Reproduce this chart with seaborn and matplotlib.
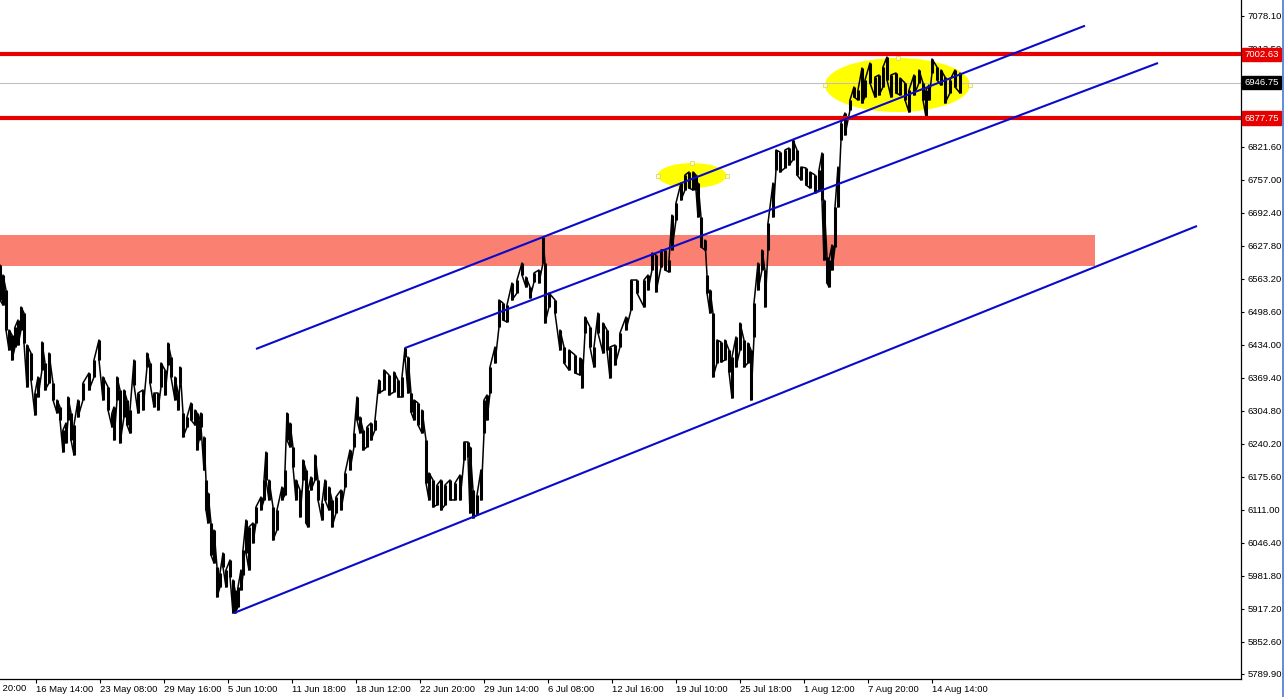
import matplotlib
matplotlib.use("Agg")
import matplotlib.pyplot as plt
import matplotlib.transforms as mtransforms
from matplotlib.patches import Rectangle, Ellipse
from matplotlib.lines import Line2D
import numpy as np
import pandas as pd
import seaborn as sns

sns.set_theme(style="white")
plt.rcParams["font.family"] = ["Liberation Sans", "DejaVu Sans"]

# ---- price history: bar position, bar high, bar low ----
bar_x = [0, 3, 6, 9, 12, 15, 18, 21, 24, 27, 31, 35, 38, 42, 45, 49, 53, 57, 60, 63,
         66, 68, 71, 74, 78, 83, 89, 94, 99, 103, 108, 112, 114, 117, 120, 124, 127, 130, 134, 138,
         143, 147, 150, 154, 158, 161, 165, 168, 171, 175, 178, 180, 183, 187, 191, 195, 197, 199, 201, 204,
         206, 208, 211, 214, 217, 220, 223, 226, 230, 233, 235, 238, 241, 243, 246, 249, 253, 256, 261, 264,
         266, 269, 273, 277, 282, 285, 287, 290, 293, 296, 300, 303, 306, 308, 311, 315, 318, 322, 325, 329,
         332, 336, 341, 345, 350, 354, 357, 360, 363, 367, 371, 375, 379, 384, 389, 394, 398, 402, 405, 408,
         411, 414, 418, 422, 426, 429, 433, 437, 441, 445, 450, 455, 460, 464, 468, 470, 473, 477, 481, 484,
         487, 490, 495, 499, 503, 507, 512, 517, 522, 526, 530, 534, 539, 543, 545, 549, 555, 560, 564, 569,
         575, 580, 582, 585, 590, 594, 598, 603, 607, 610, 615, 620, 626, 631, 637, 644, 648, 652, 656, 661,
         665, 669, 672, 676, 681, 685, 689, 693, 696, 698, 701, 705, 707, 710, 713, 717, 721, 725, 729, 732,
         736, 740, 744, 748, 751, 754, 758, 762, 765, 768, 773, 776, 780, 785, 789, 793, 797, 801, 806, 810,
         815, 819, 822, 824, 827, 829, 832, 835, 838, 841, 845, 850, 854, 858, 862, 865, 870, 875, 879, 883,
         887, 891, 896, 900, 905, 909, 914, 919, 923, 926, 929, 932, 937, 941, 945, 950, 955, 960]

bar_high = [6590.0, 6570.4, 6541.1, 6462.8, 6453.0, 6468.6, 6482.3, 6507.8, 6496.0, 6433.4,
            6417.7, 6339.4, 6370.8, 6439.3, 6398.2, 6417.7, 6359.0, 6325.7, 6312.0, 6267.0,
            6280.7, 6331.6, 6300.3, 6276.8, 6325.7, 6359.0, 6378.6, 6404.0, 6443.2, 6370.8,
            6351.2, 6300.3, 6312.0, 6370.8, 6345.3, 6345.3, 6325.7, 6306.1, 6404.0, 6339.4,
            6345.3, 6417.7, 6398.2, 6339.4, 6339.4, 6398.2, 6384.5, 6437.3, 6409.9, 6370.8,
            6339.4, 6390.3, 6300.3, 6292.4, 6319.9, 6306.1, 6300.3, 6286.6, 6300.3, 6253.3,
            6169.1, 6143.7, 6084.9, 6071.2, 5998.8, 5987.0, 6026.2, 5992.9, 6012.5, 5973.3,
            5953.8, 5959.6, 5992.9, 6032.1, 6090.8, 6077.1, 6084.9, 6116.3, 6135.8, 6169.1,
            6223.9, 6169.1, 6116.3, 6110.4, 6155.4, 6188.7, 6300.3, 6280.7, 6233.7, 6169.1,
            6149.5, 6208.3, 6188.7, 6149.5, 6175.0, 6218.1, 6169.1, 6124.1, 6169.1, 6155.4,
            6130.0, 6135.8, 6149.5, 6182.8, 6227.8, 6261.1, 6331.6, 6292.4, 6267.0, 6272.9,
            6280.7, 6286.6, 6364.9, 6384.5, 6374.7, 6380.5, 6364.9, 6370.8, 6427.5, 6409.9,
            6339.4, 6325.7, 6319.9, 6306.1, 6247.4, 6182.8, 6169.1, 6159.3, 6169.1, 6159.3,
            6169.1, 6163.2, 6178.9, 6243.5, 6243.5, 6233.7, 6149.5, 6139.7, 6188.7, 6325.7,
            6335.5, 6390.3, 6429.5, 6521.5, 6515.6, 6511.7, 6554.8, 6560.6, 6593.9, 6566.5,
            6546.9, 6574.4, 6580.2, 6644.8, 6593.9, 6535.2, 6521.5, 6462.8, 6429.5, 6423.6,
            6413.8, 6407.9, 6404.0, 6488.2, 6468.6, 6429.5, 6496.0, 6476.5, 6462.8, 6429.5,
            6433.4, 6456.9, 6488.2, 6560.6, 6560.6, 6560.6, 6570.4, 6613.5, 6609.6, 6619.4,
            6619.4, 6599.8, 6687.9, 6711.4, 6750.5, 6766.2, 6772.1, 6772.1, 6766.2, 6750.5,
            6684.0, 6639.0, 6570.4, 6541.1, 6496.0, 6443.2, 6439.3, 6443.2, 6423.6, 6409.9,
            6449.1, 6476.5, 6443.2, 6437.3, 6423.6, 6515.6, 6593.9, 6619.4, 6580.2, 6672.2,
            6750.5, 6815.2, 6811.2, 6815.2, 6819.1, 6834.7, 6815.2, 6781.9, 6779.9, 6772.1,
            6766.2, 6776.0, 6809.3, 6717.3, 6605.7, 6599.8, 6629.2, 6703.6, 6781.9, 6868.0,
            6887.6, 6913.0, 6938.5, 6932.6, 6975.7, 6952.2, 6985.5, 6958.1, 6962.0, 6977.6,
            6997.2, 6962.0, 6965.9, 6956.1, 6946.3, 6932.6, 6962.0, 6971.8, 6946.3, 6932.6,
            6942.4, 6993.3, 6977.6, 6971.8, 6958.1, 6952.2, 6971.8, 6965.9]

bar_low = [6521.5, 6511.7, 6462.8, 6423.6, 6404.0, 6429.5, 6433.4, 6462.8, 6437.3, 6351.2,
           6364.9, 6296.4, 6331.6, 6384.5, 6345.3, 6359.0, 6325.7, 6300.3, 6286.6, 6223.9,
           6241.5, 6286.6, 6247.4, 6218.1, 6292.4, 6325.7, 6345.3, 6370.8, 6404.0, 6325.7,
           6306.1, 6272.9, 6247.4, 6325.7, 6241.5, 6292.4, 6276.8, 6261.1, 6355.1, 6300.3,
           6306.1, 6390.3, 6359.0, 6312.0, 6306.1, 6351.2, 6335.5, 6394.2, 6370.8, 6325.7,
           6306.1, 6359.0, 6253.3, 6272.9, 6286.6, 6276.8, 6227.8, 6247.4, 6272.9, 6188.7,
           6110.4, 6084.9, 6022.3, 6006.6, 5940.1, 5959.6, 5998.8, 5959.6, 5979.2, 5908.7,
           5908.7, 5920.5, 5953.8, 5983.1, 6026.2, 5992.9, 6045.8, 6084.9, 6110.4, 6130.0,
           6169.1, 6130.0, 6051.6, 6071.2, 6130.0, 6139.7, 6247.4, 6233.7, 6194.6, 6130.0,
           6096.7, 6169.1, 6084.9, 6077.1, 6149.5, 6169.1, 6130.0, 6090.8, 6130.0, 6110.4,
           6077.1, 6104.5, 6110.4, 6155.4, 6188.7, 6233.7, 6286.6, 6261.1, 6227.8, 6233.7,
           6247.4, 6267.0, 6339.4, 6345.3, 6335.5, 6341.4, 6331.6, 6331.6, 6409.9, 6339.4,
           6302.2, 6286.6, 6276.8, 6261.1, 6163.2, 6130.0, 6116.3, 6120.2, 6110.4, 6120.2,
           6130.0, 6130.0, 6130.0, 6208.3, 6214.1, 6104.5, 6094.7, 6100.6, 6130.0, 6261.1,
           6286.6, 6339.4, 6398.2, 6468.6, 6482.3, 6478.4, 6521.5, 6535.2, 6570.4, 6546.9,
           6525.4, 6556.7, 6554.8, 6593.9, 6476.5, 6507.8, 6496.0, 6423.6, 6398.2, 6384.5,
           6378.6, 6374.7, 6349.2, 6456.9, 6429.5, 6390.3, 6456.9, 6417.7, 6423.6, 6368.8,
           6394.2, 6429.5, 6462.8, 6501.9, 6535.2, 6507.8, 6541.1, 6580.2, 6537.2, 6586.1,
           6580.2, 6576.3, 6619.4, 6678.1, 6717.3, 6736.8, 6740.8, 6736.8, 6736.8, 6684.0,
           6625.3, 6619.4, 6535.2, 6496.0, 6370.8, 6398.2, 6400.1, 6404.0, 6380.5, 6329.6,
           6390.3, 6423.6, 6390.3, 6398.2, 6325.7, 6449.1, 6541.1, 6580.2, 6507.8, 6619.4,
           6684.0, 6776.0, 6772.1, 6779.9, 6785.8, 6795.6, 6766.2, 6756.4, 6746.6, 6740.8,
           6731.0, 6736.8, 6717.3, 6599.8, 6554.8, 6546.9, 6580.2, 6625.3, 6703.6, 6834.7,
           6844.5, 6893.4, 6918.9, 6913.0, 6907.2, 6918.9, 6946.3, 6918.9, 6922.8, 6938.5,
           6952.2, 6918.9, 6926.7, 6922.8, 6913.0, 6889.5, 6922.8, 6946.3, 6913.0, 6879.8,
           6913.0, 6965.9, 6952.2, 6942.4, 6907.2, 6926.7, 6938.5, 6926.7]

# ---- drawn objects ----
channel_start_bar = [256, 405, 234]
channel_start_price = [6425.6, 6427.5, 5908.7]
channel_end_bar = [1085, 1158, 1197]
channel_end_price = [7058.5, 6985.5, 6666.4]

zone_bars = [0, 1095]
zone_prices = [6588.1, 6648.7]

ellipse_center_bar = [692, 897.5]
ellipse_center_price = [6765.2, 6942.4]
ellipse_width_bars = [69, 145]
ellipse_height_price = [48.9, 105.7]

resistance_level = 7002.63
support_level = 6877.75
bid_level = 6946.75

# ---- axes labels ----
price_ticks = [7078.10, 7013.50, 6886.20, 6821.60, 6757.00, 6692.40, 6627.80,
               6563.20, 6498.60, 6434.00, 6369.40, 6304.80, 6240.20, 6175.60, 6111.00,
               6046.40, 5981.80, 5917.20, 5852.60, 5789.90]
time_label_bars = [36, 100, 164, 228, 292, 356, 420, 484, 548, 612, 676, 740, 804, 868, 932]
time_labels = ["16 May 14:00", "23 May 08:00", "29 May 16:00", "5 Jun 10:00", "11 Jun 18:00",
               "18 Jun 12:00", "22 Jun 20:00", "29 Jun 14:00", "6 Jul 08:00", "12 Jul 16:00",
               "19 Jul 10:00", "25 Jul 18:00", "1 Aug 12:00", "7 Aug 20:00", "14 Aug 14:00"]
first_time_label = "9 May 20:00"
first_time_bar = -26

W, H = 1284, 697
fig = plt.figure(figsize=(W / 100, H / 100), dpi=100)
fig.patch.set_facecolor("white")
ax_right_px, ax_bottom_px = 1241, 679
ax = fig.add_axes([0, (H - ax_bottom_px) / H, ax_right_px / W, ax_bottom_px / H])
ax.set_facecolor("white")

FS = 6.8
RED = "#e60000"
BLUE = "#0a0acc"

# background zone
ax.add_patch(Rectangle((zone_bars[0], zone_prices[0]), zone_bars[1] - zone_bars[0],
                       zone_prices[1] - zone_prices[0], facecolor="#fa8072",
                       edgecolor="none", zorder=0.5))

# highlight ellipses with their anchor handles
for cx, cy, w, h in zip(ellipse_center_bar, ellipse_center_price,
                        ellipse_width_bars, ellipse_height_price):
    ax.add_patch(Ellipse((cx, cy), w, h, facecolor="#ffff00", edgecolor="none", zorder=0.8))
    hx = [cx - w / 2, cx + w / 2, cx]
    hy = [cy, cy, cy + h / 2]
    ax.scatter(hx, hy, marker="s", s=9, facecolor="#ffffc0", edgecolor="#d8d060",
               linewidth=0.5, zorder=0.9)

# price bars: a high-low stroke for each bar, joined by a jagged trace
ax.vlines(bar_x, bar_low, bar_high, colors="black", linewidth=2.2, zorder=2)
path_x, path_y = [], []
for i, (x, hi, lo) in enumerate(zip(bar_x, bar_high, bar_low)):
    path_x += [x, x]
    path_y += [hi, lo] if i % 2 == 0 else [lo, hi]
price_df = pd.DataFrame({"bar": path_x, "price": path_y})
sns.lineplot(data=price_df, x="bar", y="price", sort=False, estimator=None,
             color="black", linewidth=1.1, ax=ax, zorder=2)

# horizontal levels
ax.axhline(bid_level, color="#c0c0c0", linewidth=0.8, zorder=1.5)
ax.axhline(resistance_level, color=RED, linewidth=3.0, zorder=3)
ax.axhline(support_level, color=RED, linewidth=3.0, zorder=3)

# channel lines
for x0, y0, x1, y1 in zip(channel_start_bar, channel_start_price,
                          channel_end_bar, channel_end_price):
    ax.plot([x0, x1], [y0, y1], color=BLUE, linewidth=1.5, zorder=3.5,
            solid_capstyle="butt")

ax.set_xlim(0, ax_right_px)
ax.set_ylim(5779.5, 7108.8)

# right-hand price scale
ax.yaxis.tick_right()
ax.set_yticks(price_ticks)
ax.set_yticklabels([f"{v:.2f}" for v in price_ticks])
ax.tick_params(axis="y", which="both", direction="out", length=2.5, width=0.8,
               pad=2, labelsize=FS, colors="black", right=True, left=False)

# time scale
ax.set_xticks(time_label_bars)
ax.set_xticklabels(time_labels)
offset = mtransforms.ScaledTranslation(2 / 100, 0, fig.dpi_scale_trans)
for lab in ax.get_xticklabels():
    lab.set_horizontalalignment("left")
    lab.set_transform(lab.get_transform() + offset)
ax.tick_params(axis="x", which="both", direction="out", length=3, width=0.8,
               pad=1.5, labelsize=FS, colors="black", bottom=True)
ax.text(first_time_bar, -0.0074, first_time_label, transform=ax.get_xaxis_transform(),
        ha="left", va="top", fontsize=FS, color="black", clip_on=False)

ax.set_xlabel("")
ax.set_ylabel("")
for side in ["top", "left"]:
    ax.spines[side].set_visible(False)
for side in ["right", "bottom"]:
    ax.spines[side].set_color("black")
    ax.spines[side].set_linewidth(0.9)
ax.grid(False)

# price tags on the scale
tag_tf = ax.get_yaxis_transform()
for level, bg in [(resistance_level, RED), (bid_level, "black"), (support_level, RED)]:
    ax.text(1.0025, level, f"{level:.2f}", transform=tag_tf, ha="left", va="center",
            fontsize=FS, color="white", zorder=10, clip_on=False,
            bbox=dict(boxstyle="square,pad=0.22", facecolor=bg, edgecolor=bg))

# window border on the far right
fig.add_artist(Line2D([1282.5 / W, 1282.5 / W], [0, 1], transform=fig.transFigure,
                      color="#4a78d0", linewidth=1.2))

fig.savefig("out.png", dpi=100, facecolor="white")
